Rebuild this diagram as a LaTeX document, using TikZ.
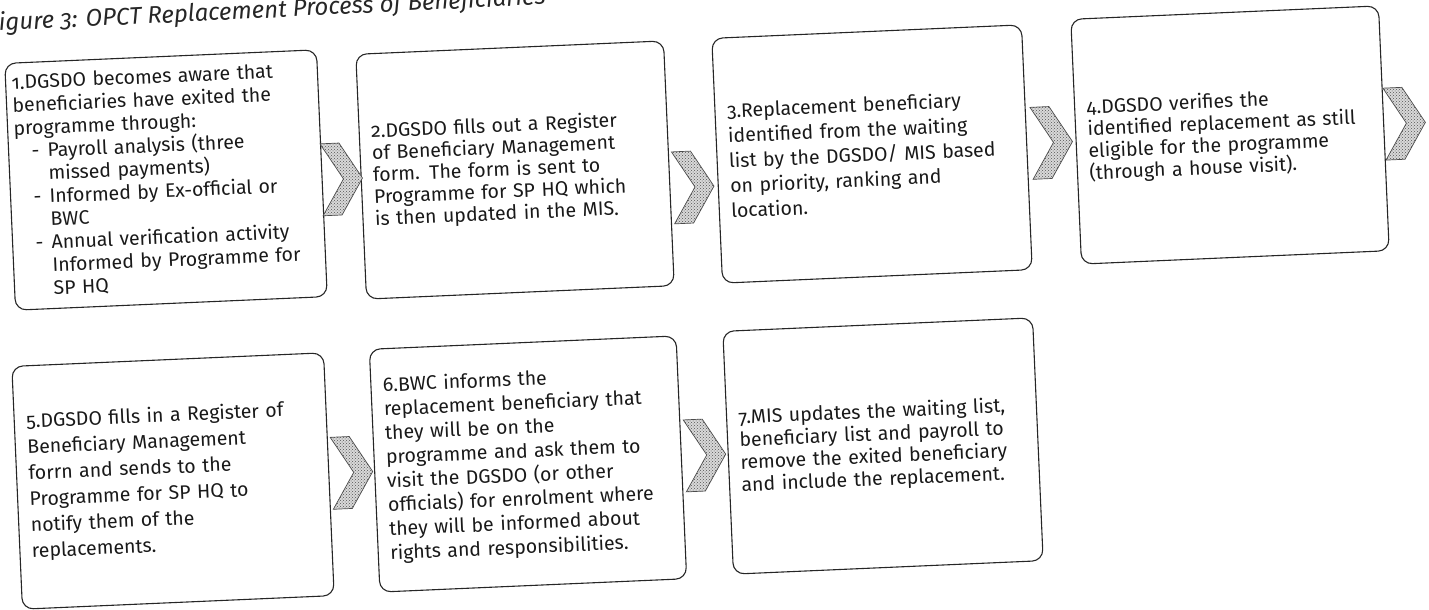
\documentclass[tikz,border=0pt]{standalone}
\usepackage{fontspec}
\setmainfont{Fira Sans}[Numbers=OldStyle]
\usetikzlibrary{calc,patterns}
\newcommand\dashitem{\makebox[33pt][l]{\hspace{17pt}-}}
\newcommand\contitem{\hspace*{33pt}}
\begin{document}
\begin{tikzpicture}[x=1pt,y=-1pt,
  stepbox/.style={draw=black!85, line width=1.1pt, rounded corners=11pt,
    rotate=2.5, align=left, inner xsep=12pt, inner ysep=6pt,
    font=\fontsize{19.5}{22}\selectfont, text=black!90},
  chevstyle/.style={draw=gray!60!black, line width=0.7pt,
    preaction={fill=gray!30}, pattern=crosshatch dots, pattern color=gray!65!black},
  chevron/.pic={\draw[chevstyle] (-20pt,36pt) -- (-1pt,36pt) -- (21pt,0pt)
     -- (-1pt,-36pt) -- (-20pt,-36pt) -- (2pt,0pt) -- cycle;},
  titlestyle/.style={font=\itshape\fontsize{24}{28}\selectfont, text=black!85}
]
\useasboundingbox (0,0) rectangle (1429,610);
\clip (0,0) rectangle (1429,610);

\node[titlestyle, anchor=base west, rotate=2.8, inner sep=0pt] (title) at (-1,31)
  {igure 3: OPCT Replacement Process of Beneficiaries};

\node[stepbox, inner xsep=6pt, text width=300pt, minimum height=247pt,
      font=\fontsize{19.5}{23}\selectfont] (b1) at (166,180)
  {1.DGSDO becomes aware that\\
   beneficiaries have exited the\\
   programme through:\\
   \dashitem Payroll analysis (three\\
   \contitem missed payments)\\
   \dashitem Informed by Ex-official or\\
   \contitem BWC\\
   \dashitem Annual verification activity\\
   \contitem Informed by Programme for\\
   \contitem SP HQ};

\node[stepbox, text width=284pt, minimum height=245pt] (b2) at (515,170)
  {2.DGSDO fills out a Register\\
   of Beneficiary Management\\
   form. The form is sent to\\
   Programme for SP HQ which\\
   is then updated in the MIS.};

\node[stepbox, text width=286pt, minimum height=245pt,
      font=\fontsize{19.5}{25}\selectfont] (b3) at (872,154)
  {3.Replacement beneficiary\\
   identified from the waiting\\
   list by the DGSDO/ MIS based\\
   on priority, ranking and\\
   location.};

\node[stepbox, text width=284pt, minimum height=245pt] (b4) at (1230,135)
  {4.DGSDO verifies the\\
   identified replacement as still\\
   eligible for the programme\\
   (through a house visit).};

\node[stepbox, text width=288pt, minimum height=243pt,
      font=\fontsize{19.5}{26}\selectfont] (b5) at (173,481)
  {5.DGSDO fills in a Register of\\
   Beneficiary Management\\
   forrn and sends to the\\
   Programme for SP HQ to\\
   notify them of the\\
   replacements.};

\node[stepbox, text width=283pt, minimum height=243pt,
      font=\fontsize{19.5}{24}\selectfont] (b6) at (528,464)
  {6.BWC informs the\\
   replacement beneficiary that\\
   they will be on the\\
   programme and ask them to\\
   visit the DGSDO (or other\\
   officials) for enrolment where\\
   they will be informed about\\
   rights and responsibilities.};

\node[stepbox, text width=286pt, minimum height=243pt,
      font=\fontsize{19.5}{22.5}\selectfont] (b7) at (883,446)
  {7.MIS updates the waiting list,\\
   beneficiary list and payroll to\\
   remove the exited beneficiary\\
   and include the replacement.};

\coordinate (c1) at ($(b1.east)!0.5!(b2.west)+(0,4)$);
\coordinate (c2) at ($(b2.east)!0.5!(b3.west)+(0,25)$);
\coordinate (c3) at ($(b3.east)!0.5!(b4.west)+(0,-2)$);
\coordinate (c4) at ($(b4.east)+(20,-5)$);
\coordinate (c5) at ($(b5.east)!0.5!(b6.west)+(0,0)$);
\coordinate (c6) at ($(b6.east)!0.5!(b7.west)+(0,0)$);
\foreach \c in {c1,c2,c3,c4,c5,c6} \pic[rotate=2.5] at (\c) {chevron};
\end{tikzpicture}
\end{document}
